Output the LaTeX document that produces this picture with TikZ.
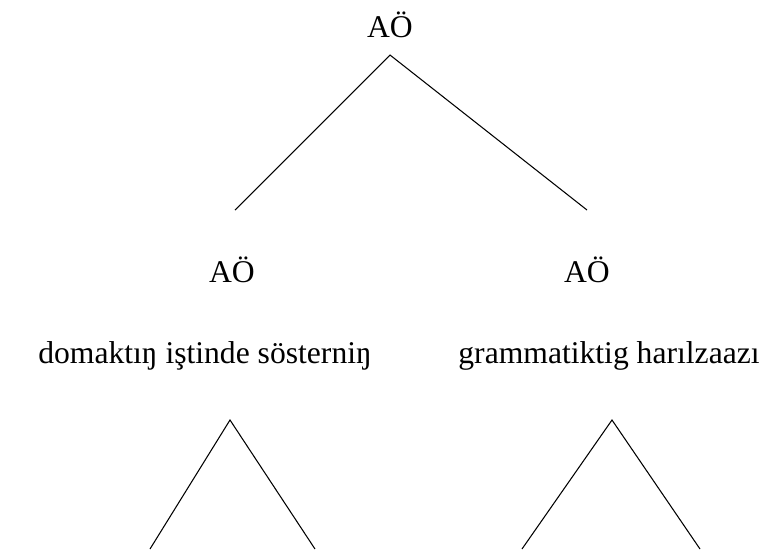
\documentclass[tikz,border=0pt]{standalone}
\usepackage{fontspec}
\setmainfont{Liberation Serif}

\begin{document}
\begin{tikzpicture}[x=0.02cm,y=-0.02cm,label/.style={anchor=base,inner sep=0pt,font=\fontsize{18}{22}\selectfont},edge/.style={line width=0.6pt}]
\useasboundingbox (0,0) rectangle (769,549);
% top of the tree
\node[label] (root) at (390,37) {AÖ};
\coordinate (rootfoot) at (390,55);
\coordinate (lefttop) at (235,210);
\coordinate (righttop) at (587,210);
\draw[edge] (lefttop) -- (rootfoot) -- (righttop);
% the two daughters
\node[label] (leftcat) at (232,282) {AÖ};
\node[label] (rightcat) at (587,282) {AÖ};
\node[label] (leftword) at (205,363) {domaktıŋ iştinde sösterniŋ};
\node[label] (rightword) at (609,363) {grammatiktig harılzaazı};
% triangles below
\coordinate (lefttip) at (230,420);
\coordinate (leftbl) at (150,549);
\coordinate (leftbr) at (315,549);
\coordinate (righttip) at (612,420);
\coordinate (rightbl) at (522,549);
\coordinate (rightbr) at (700,549);
\draw[edge] (leftbl) -- (lefttip) -- (leftbr);
\draw[edge] (rightbl) -- (righttip) -- (rightbr);
\end{tikzpicture}
\end{document}
